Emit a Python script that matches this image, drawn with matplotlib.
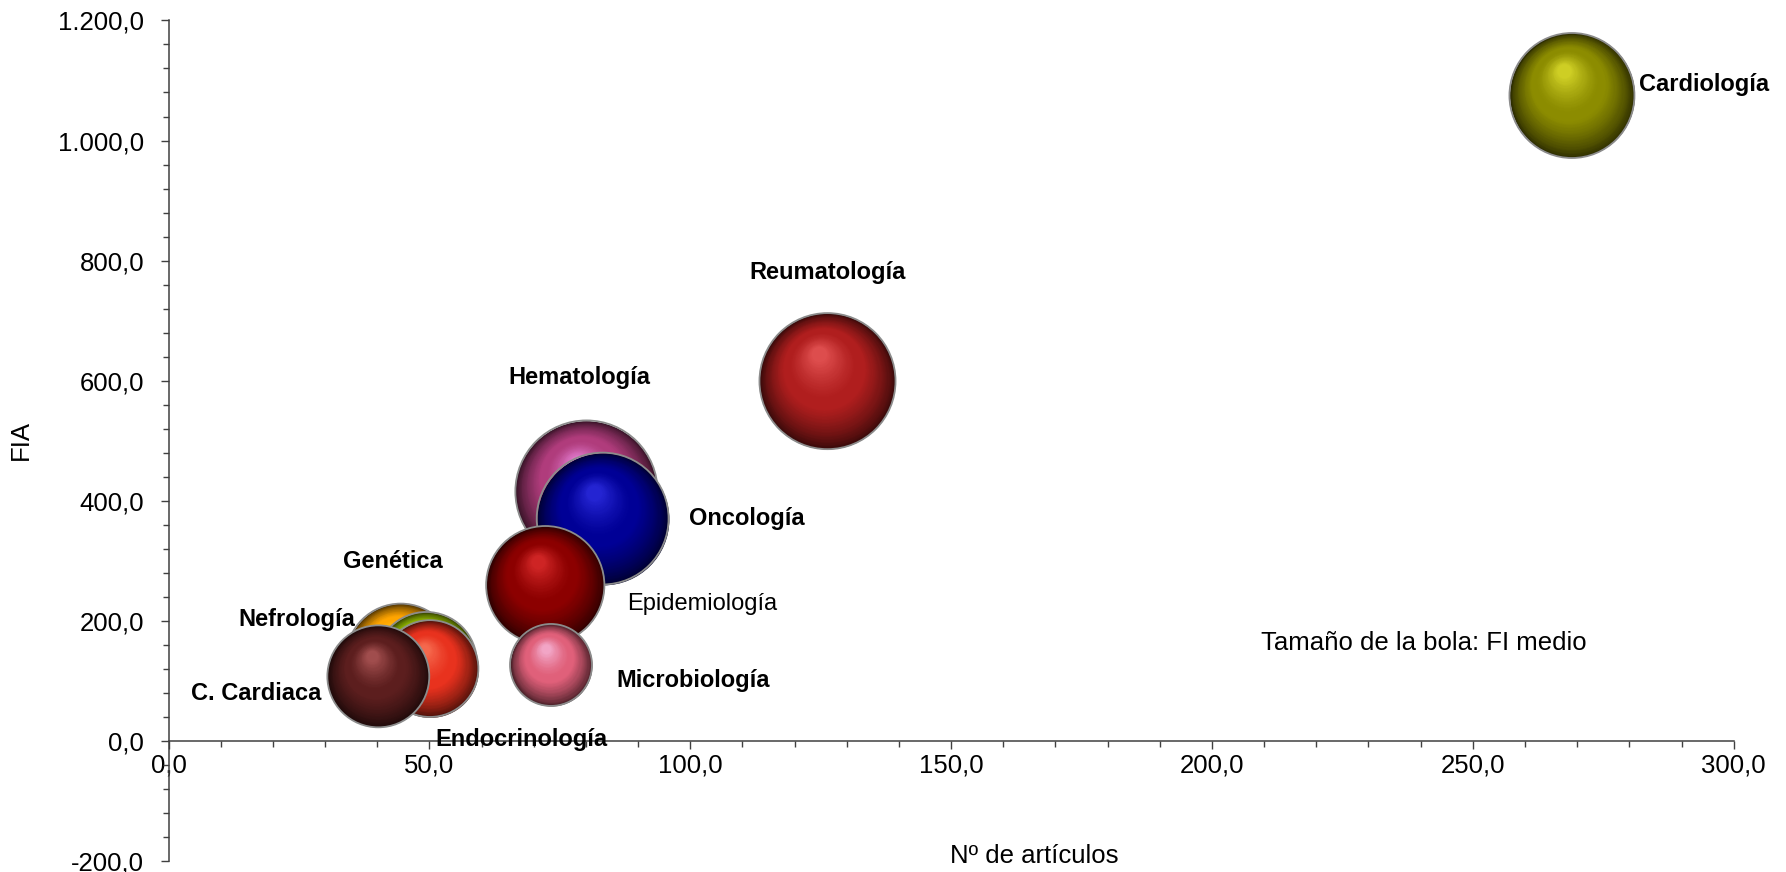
import matplotlib
matplotlib.use('Agg')
import matplotlib.pyplot as plt
import numpy as np
from matplotlib.ticker import MultipleLocator, FuncFormatter
from matplotlib.transforms import offset_copy
from matplotlib.colors import to_rgb

plt.rcParams['font.family'] = ['Liberation Sans', 'DejaVu Sans']

# --- datos (orden = orden de dibujo) ---
especialidades = ['Hematología', 'Oncología', 'Epidemiología', 'Microbiología',
                  'Genética', 'Nefrología', 'Endocrinología', 'C. Cardiaca',
                  'Reumatología', 'Cardiología']
n_articulos = [80.1, 83.2, 72.2, 73.3, 44.5, 49.4, 50.1, 40.2, 126.3, 269.0]
fia = [415.0, 370.0, 259.0, 126.0, 137.0, 130.0, 120.0, 107.0, 599.0, 1075.0]
fi_medio = [5.18, 4.45, 3.58, 1.72, 3.07, 2.62, 2.40, 2.66, 4.74, 4.00]

colores = ['#B03C7C', '#000096', '#8C0000', '#E0607A', '#FFA500', '#A8D400',
           '#E8321E', '#5C1E1E', '#B01E1E', '#8C8C00']

# posicion de las etiquetas: (dx pt, dy pt, alineacion, negrita)
etiquetas = {
    'Hematología': (-5, 82, 'center', True),
    'Oncología': (62, 0, 'left', True),
    'Epidemiología': (59, -13.5, 'left', False),
    'Microbiología': (47, -11, 'left', True),
    'Genética': (-5.5, 70, 'center', True),
    'Nefrología': (-51, 31, 'right', True),
    'Endocrinología': (66, -51, 'center', True),
    'C. Cardiaca': (-41, -12, 'right', True),
    'Reumatología': (0, 78, 'center', True),
    'Cardiología': (48, 8, 'left', True),
}

ESCALA = 22.5  # radio en puntos por sqrt(FI medio)


def esfera(ax, x, y, r, color, z, n=60):
    # bola con sombreado: capas concentricas desplazadas hacia el brillo
    base = np.array(to_rgb(color))
    brillo = np.clip(base * 1.6 + 0.25, 0, 1)
    hx, hy = -0.13 * r, 0.40 * r
    for k in range(n):
        t = k / n * 0.9
        rk = r * (1 - t)
        if t < 0.4:
            c = base * (0.28 + 0.72 * (t / 0.4) ** 0.7)
        elif t < 0.5:
            c = base
        else:
            w = ((t - 0.5) / 0.4) ** 1.3 * 0.6
            c = base * (1 - w) + brillo * w
        tr = offset_copy(ax.transData, fig=ax.figure, x=hx * t / 0.9, y=hy * t / 0.9,
                         units='points')
        ax.scatter([x], [y], s=(2 * rk) ** 2, color=[np.clip(c, 0, 1)],
                   transform=tr, zorder=z, linewidths=0, clip_on=False)
    ax.scatter([x], [y], s=(2 * r) ** 2, facecolors='none', edgecolors='#8c8c8c',
               linewidths=1.3, zorder=z + 0.5, clip_on=False)


fig = plt.figure(figsize=(17.86, 8.72), dpi=100)
ax = fig.add_axes([0.0944, 0.0131, 0.8763, 0.9634])
ax.set_xlim(0, 300)
ax.set_ylim(-200, 1200)

for i, nombre in enumerate(especialidades):
    r = ESCALA * np.sqrt(fi_medio[i])
    esfera(ax, n_articulos[i], fia[i], r, colores[i], 3 + i)
    dx, dy, ha, negrita = etiquetas[nombre]
    ax.annotate(nombre, (n_articulos[i], fia[i]), xytext=(dx, dy),
                textcoords='offset points', ha=ha, va='center',
                fontsize=17, fontweight='bold' if negrita else 'normal',
                color='black', zorder=30)

# ejes
for s in ['top', 'right']:
    ax.spines[s].set_visible(False)
ax.spines['bottom'].set_position(('data', 0))
for s in ['left', 'bottom']:
    ax.spines[s].set_color('#404040')
    ax.spines[s].set_linewidth(1.1)

ax.xaxis.set_major_locator(MultipleLocator(50))
ax.xaxis.set_minor_locator(MultipleLocator(10))
ax.yaxis.set_major_locator(MultipleLocator(200))
ax.yaxis.set_minor_locator(MultipleLocator(40))


def formato_es(v, pos):
    s = f"{v:,.1f}"
    return s.replace(',', 'X').replace('.', ',').replace('X', '.')


ax.xaxis.set_major_formatter(FuncFormatter(formato_es))
ax.yaxis.set_major_formatter(FuncFormatter(formato_es))
ax.tick_params(axis='both', which='major', length=5.5, width=1, color='#404040',
               labelsize=18.5, direction='out')
ax.tick_params(axis='both', which='minor', length=4, width=1, color='#404040', direction='out')
ax.tick_params(axis='y', which='major', pad=12)
ax.tick_params(axis='x', which='major', pad=4)

fig.text(0.579, 0.018, 'Nº de artículos', ha='center', va='center', fontsize=18.5)
fig.text(0.0115, 0.495, 'FIA', ha='center', va='center', rotation=90, fontsize=18.5)
fig.text(0.7059, 0.2622, 'Tamaño de la bola: FI medio', ha='left', va='center', fontsize=18.5)

fig.savefig('out.png', dpi=100)
